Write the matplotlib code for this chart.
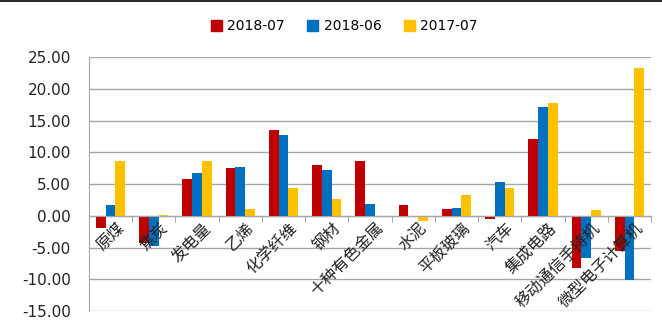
import numpy as np
import matplotlib.pyplot as plt
from matplotlib.lines import Line2D

plt.rcParams['font.family'] = ['Noto Sans CJK SC', 'DejaVu Sans']

# data
categories = ['原煤', '焦炭', '发电量', '乙烯', '化学纤维', '钢材', '十种有色金属',
              '水泥', '平板玻璃', '汽车', '集成电路', '移动通信手持机', '微型电子计算机']
series_names = ['2018-07', '2018-06', '2017-07']
v_2018_07 = [-2.0, -4.3, 5.8, 7.6, 13.5, 8.0, 8.6, 1.7, 1.0, -0.5, 12.1, -8.2, -5.6]
v_2018_06 = [1.7, -4.7, 6.8, 7.7, 12.7, 7.2, 1.9, 0.0, 1.2, 5.3, 17.1, -6.7, -10.1]
v_2017_07 = [8.6, 0.1, 8.6, 1.0, 4.3, 2.7, 0.0, -0.9, 3.3, 4.3, 17.8, 0.9, 23.3]
colors = ['#C00000', '#0070C0', '#FFC000']

fig = plt.figure(figsize=(6.62, 3.26), dpi=100)
ax = fig.add_axes([0.1344, 0.046, 0.849, 0.779])

x = np.arange(len(categories))
w = 0.225
for i, (vals, c, name) in enumerate(zip([v_2018_07, v_2018_06, v_2017_07], colors, series_names)):
    ax.bar(x + (i - 1) * w, vals, width=w, color=c, label=name, zorder=3)

ax.set_xlim(-0.5, len(categories) - 0.5)
ax.set_ylim(-15, 25)
ax.set_yticks(np.arange(-15, 26, 5))
ax.set_yticklabels([f'{v:.2f}' for v in np.arange(-15, 26, 5)], fontsize=11,
                   family='DejaVu Sans', color='#222222')
ax.yaxis.grid(True, color='#A6A6A6', linewidth=1.0, zorder=0)
ax.tick_params(axis='y', length=0, pad=13)

for s in ['top', 'right']:
    ax.spines[s].set_visible(False)
ax.spines['left'].set_color('#A6A6A6')
ax.spines['bottom'].set_position(('data', 0))
ax.spines['bottom'].set_color('#A6A6A6')
ax.spines['bottom'].set_zorder(4)
ax.set_xticks(np.arange(-0.5, len(categories), 1))
ax.set_xticklabels([])
ax.tick_params(axis='x', direction='out', length=4, color='#A6A6A6')

for xi, lab in zip(x, categories):
    ax.text(xi + 0.12, -0.6, lab, rotation=45, ha='right', va='top',
            rotation_mode='anchor', fontsize=11.5, color='#222222', zorder=5)

handles = [plt.Rectangle((0, 0), 1, 1, color=c) for c in colors]
fig.legend(handles, series_names, loc='center', bbox_to_anchor=(0.52, 0.92),
           ncol=3, frameon=False, handlelength=0.8, handleheight=0.8,
           handletextpad=0.4, columnspacing=1.6, prop={'family': 'DejaVu Sans', 'size': 10})

fig.add_artist(Line2D([0, 1], [0.998, 0.998], color='black', linewidth=1.2))

fig.savefig('out.png', dpi=100)
